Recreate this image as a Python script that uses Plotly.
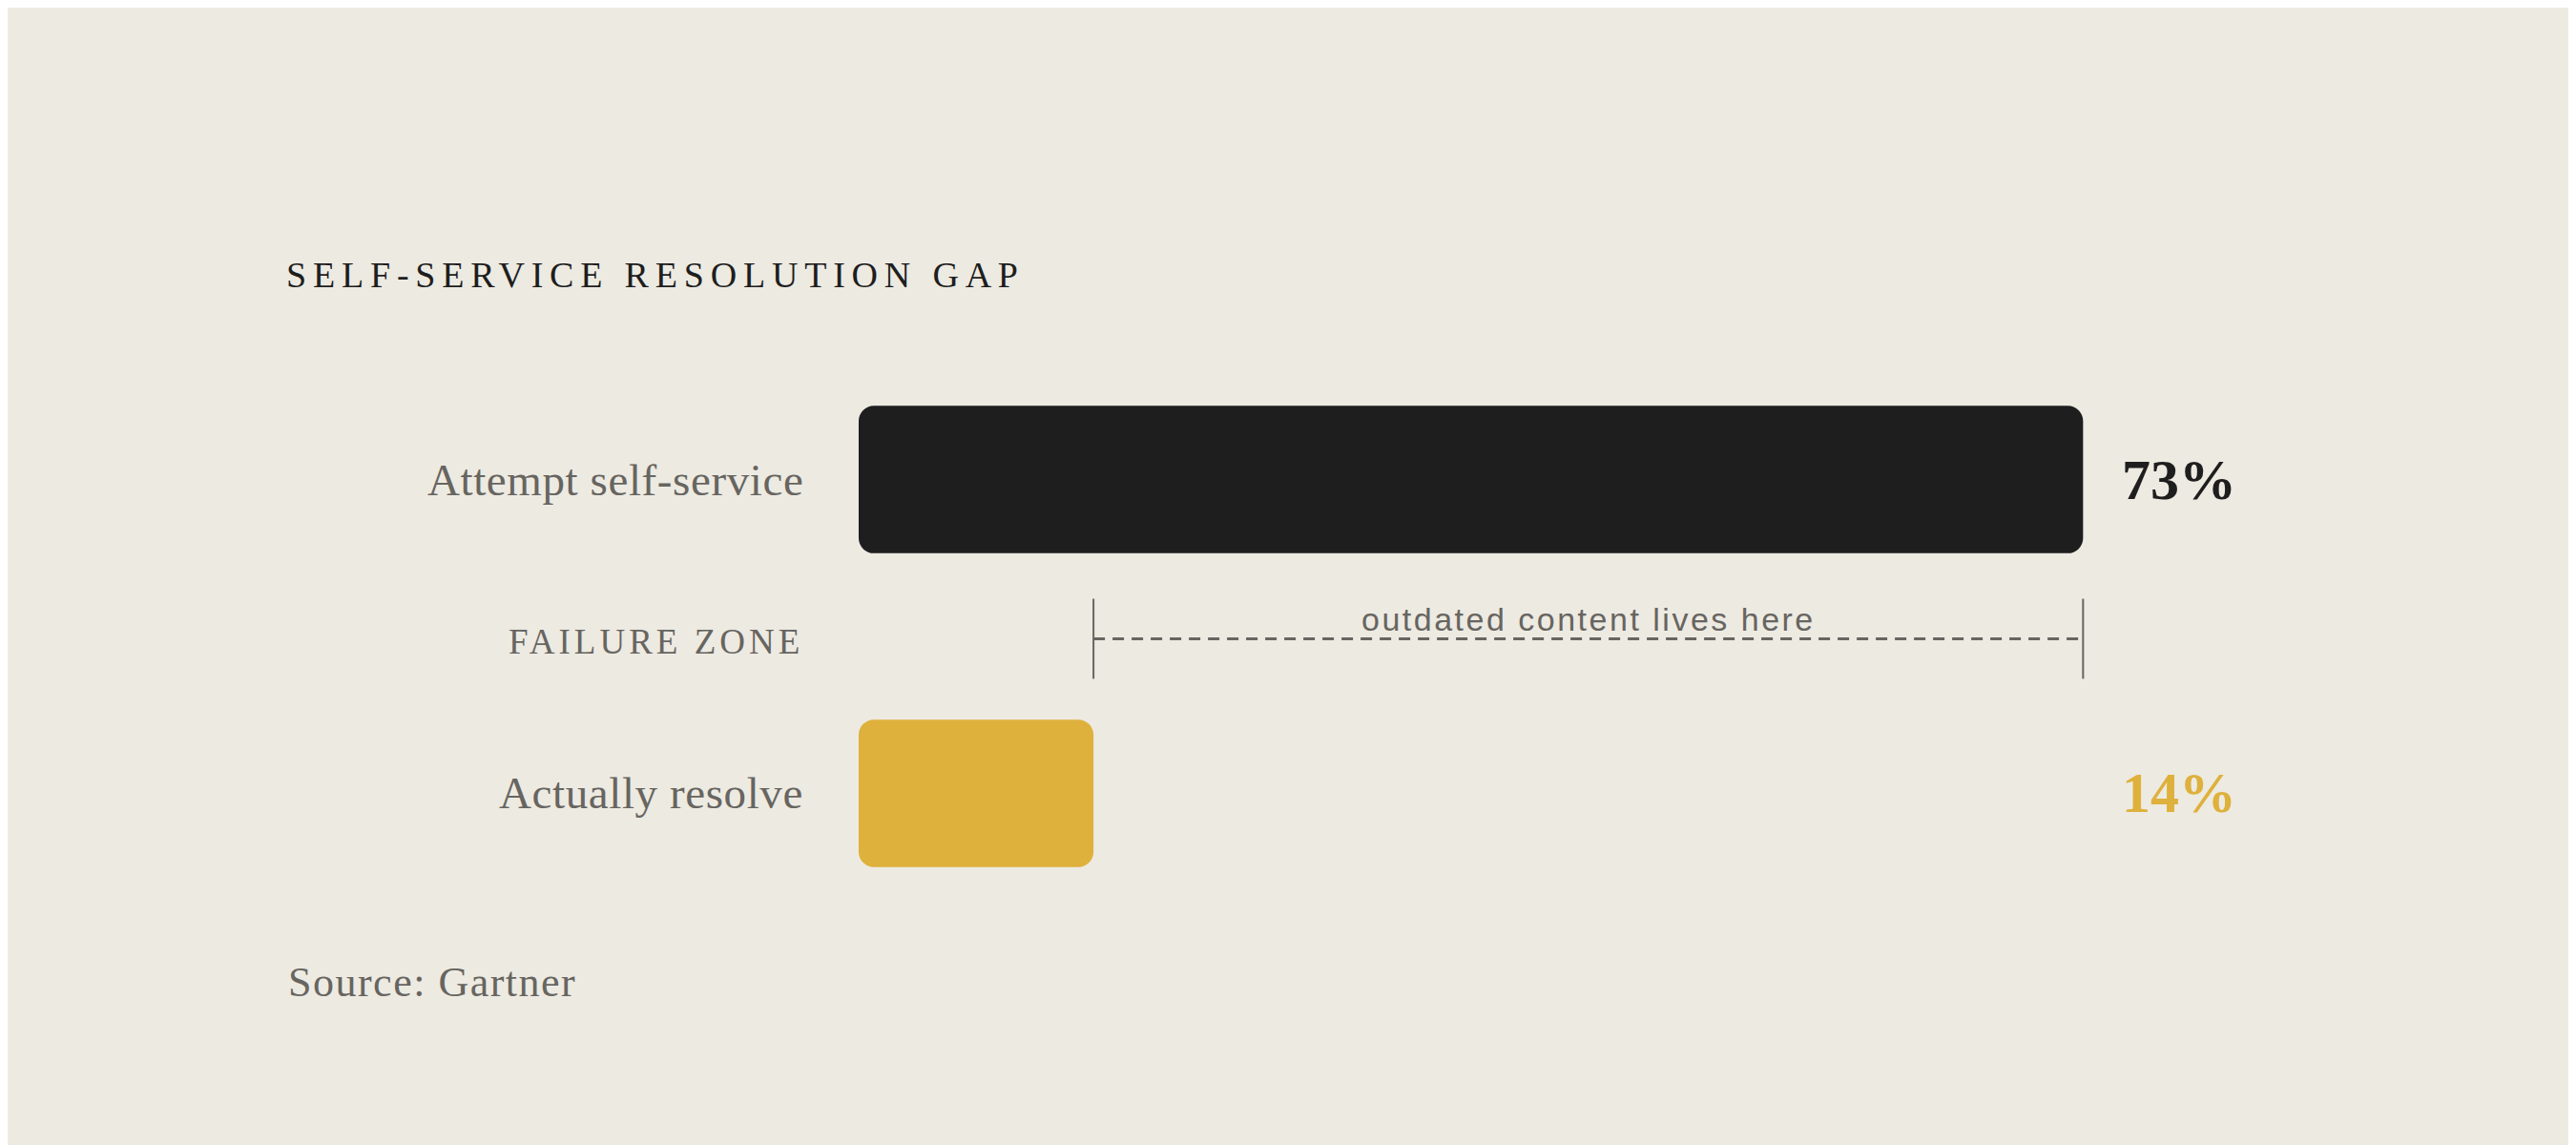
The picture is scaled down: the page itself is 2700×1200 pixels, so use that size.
import plotly.graph_objects as go

# data -------------------------------------------------------------------
rows = ["Attempt self-service", "FAILURE ZONE", "Actually resolve"]
bar_labels = ["Attempt self-service", "Actually resolve"]
bar_values = [73, 14]
value_text = ["73%", "14%"]
gap_note = "outdated content lives here"
chart_title = "SELF-SERVICE RESOLUTION GAP"
source_note = "Source: Gartner"

# styling ----------------------------------------------------------------
BG = "#EDEAE2"
DARK = "#1E1E1E"
GOLD = "#DEB13C"
GREY = "#676560"
SERIF = "Liberation Serif, Times New Roman, serif"
SANS = "Liberation Sans, Arial, sans-serif"

bar_y = [rows.index(lbl) for lbl in bar_labels]
bar_colors = [DARK, GOLD]

fig = go.Figure()
# explicit base -> plotly rounds all four corners
fig.add_trace(go.Bar(x=bar_values, base=[0] * len(bar_values), y=bar_y,
                     orientation="h", width=0.94,
                     marker=dict(color=bar_colors, cornerradius=16, line=dict(width=0)),
                     hoverinfo="skip"))

# failure zone: dashed span between the two values
lo, hi = min(bar_values), max(bar_values)
zone_y = rows.index("FAILURE ZONE") + 0.015
fig.add_trace(go.Scatter(x=[lo, hi], y=[zone_y, zone_y], mode="lines",
                         line=dict(color=GREY, width=3, dash="12px,8px"),
                         hoverinfo="skip"))
for xv in (lo, hi):
    fig.add_shape(type="line", xref="x", yref="y", x0=xv, x1=xv,
                  y0=zone_y - 0.255, y1=zone_y + 0.255,
                  line=dict(color=GREY, width=2))

fig.add_annotation(x=(lo + hi) / 2, y=zone_y, xref="x", yref="y",
                   text='<span style="letter-spacing:2.5px">' + gap_note + "</span>",
                   showarrow=False, xanchor="center", yanchor="middle", yshift=20,
                   font=dict(family=SANS, size=34, color=GREY))

# row labels (left of the plot area)
for i, lbl in enumerate(rows):
    if lbl == "FAILURE ZONE":
        txt = '<span style="letter-spacing:4px">' + lbl + "</span>"
        sz, dy = 37, -5
    else:
        txt = '<span style="letter-spacing:0.6px">' + lbl + "</span>"
        sz, dy = 47, 0
    fig.add_annotation(x=-0.0319, y=i, xref="paper", yref="y", text=txt,
                       showarrow=False, xanchor="right", yanchor="middle", yshift=dy,
                       font=dict(family=SERIF, size=sz, color=GREY))

# value labels
for yv, t, c in zip(bar_y, value_text, bar_colors):
    fig.add_annotation(x=max(bar_values) + 2.2, y=yv, xref="x", yref="y",
                       text="<b>" + t + "</b>", showarrow=False,
                       xanchor="left", yanchor="middle",
                       font=dict(family=SERIF, size=60, color=c))

# source
fig.add_annotation(x=-0.3413, y=3.207, xref="paper", yref="y",
                   text='<span style="letter-spacing:1.5px">' + source_note + "</span>",
                   showarrow=False, xanchor="left", yanchor="middle",
                   font=dict(family=SERIF, size=44, color=GREY))

fig.update_layout(
    width=2700, height=1200,
    paper_bgcolor=BG, plot_bgcolor=BG,
    showlegend=False,
    margin=dict(l=892, r=50, t=248, b=130),
    title=dict(text='<span style="letter-spacing:6.8px">' + chart_title + "</span>",
               x=292 / 2700, xref="container", xanchor="left",
               y=1 - 280 / 1200, yref="container", yanchor="middle",
               font=dict(family=SERIF, size=38, color=DARK)),
    xaxis=dict(range=[0, 100], visible=False, fixedrange=True),
    yaxis=dict(range=[3.5, -1.5], visible=False, fixedrange=True),
)

fig.write_html("out.html")
